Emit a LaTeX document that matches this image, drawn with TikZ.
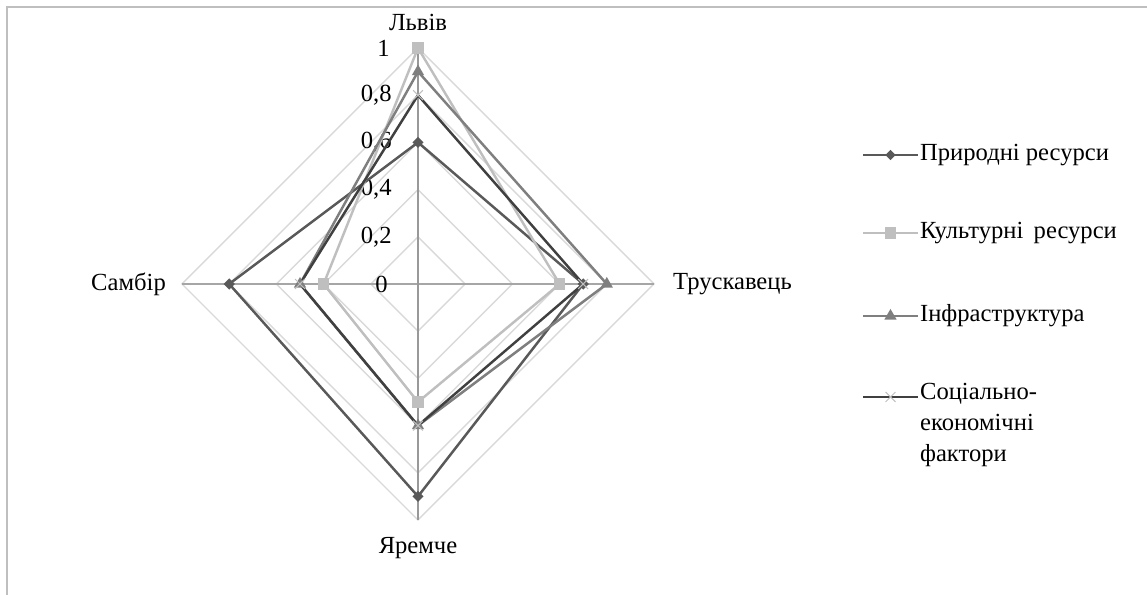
\documentclass[tikz,border=0pt]{standalone}
\usepackage{fontspec}
\setmainfont{LiberationSerif}[Extension=.ttf,UprightFont=*-Regular,BoldFont=*-Bold]
\usetikzlibrary{shapes.geometric,shapes.misc,positioning}
\definecolor{framegray}{HTML}{BFBFBF}
\definecolor{ringgray}{HTML}{D9D9D9}
\definecolor{axisgray}{HTML}{A6A6A6}
\definecolor{cnat}{HTML}{595959}
\definecolor{ccult}{HTML}{BFBFBF}
\definecolor{cinf}{HTML}{7F7F7F}
\definecolor{csoc}{HTML}{404040}

\begin{document}
\begin{tikzpicture}[font=\rmfamily\fontsize{14}{17.6}\selectfont,
   ring/.style={draw=ringgray,line width=0.8pt},
   spoke/.style={draw=axisgray,line width=0.6pt},
   sernat/.style={draw=cnat,line width=1.4pt,line join=round},
   sercult/.style={draw=ccult,line width=1.4pt,line join=round},
   serinf/.style={draw=cinf,line width=1.4pt,line join=round},
   sersoc/.style={draw=csoc,line width=1.4pt,line join=round},
   mnat/.style={diamond,fill=cnat,inner sep=0pt,minimum size=6.5pt},
   mcult/.style={rectangle,fill=ccult,inner sep=0pt,minimum size=6.5pt},
   minf/.style={regular polygon,regular polygon sides=3,fill=cinf,inner sep=0pt,minimum size=8pt},
   msoc/.style={cross out,draw=ccult,line width=0.6pt,inner sep=0pt,minimum size=5pt},
   tick/.style={anchor=east,inner sep=0pt}]
   \useasboundingbox (-8.36,-6.22) rectangle (14.58,5.68);
   \draw[framegray,line width=0.8pt] (-8.22,-6.22) -- (-8.22,5.54) -- (14.58,5.54);

   % grid
   \foreach \k in {1,...,5}
      \draw[ring] (0:\k*0.944) -- (90:\k*0.944) -- (180:\k*0.944) -- (270:\k*0.944) -- cycle;
   \coordinate (o) at (0,0);
   \coordinate (ax1) at (90:4.72);
   \coordinate (ax2) at (0:4.72);
   \coordinate (ax3) at (270:4.72);
   \coordinate (ax4) at (180:4.72);
   \draw[spoke] (ax4) -- (ax2);
   \draw[spoke,draw=cinf!80] (ax1) -- (ax3);

   % scale
   \node[tick] (t0) at (-0.6,0) {0};
   \node[tick] (t2) at (-0.52,0.944) {0,2};
   \node[tick] (t4) at (-0.52,1.888) {0,4};
   \node[tick] (t6) at (-0.52,2.832) {0,6};
   \node[tick] (t8) at (-0.52,3.776) {0,8};
   \node[tick] (t10) at (-0.56,4.72) {1};

   % categories
   \node (lviv) at (0,5.24) {Львів};
   \node[anchor=west] (trusk) at (4.98,0) {Трускавець};
   \node (yarem) at (0,-5.28) {Яремче};
   \node[anchor=east] (sambir) at (-4.92,0) {Самбір};

   % series
   \coordinate (n1) at (90:0.6*4.72);  \coordinate (n2) at (0:0.7*4.72);
   \coordinate (n3) at (270:0.9*4.72); \coordinate (n4) at (180:0.8*4.72);
   \coordinate (c1) at (90:1.0*4.72);  \coordinate (c2) at (0:0.6*4.72);
   \coordinate (c3) at (270:0.5*4.72); \coordinate (c4) at (180:0.4*4.72);
   \coordinate (i1) at (90:0.9*4.72);  \coordinate (i2) at (0:0.8*4.72);
   \coordinate (i3) at (270:0.6*4.72); \coordinate (i4) at (180:0.5*4.72);
   \coordinate (s1) at (90:0.8*4.72);  \coordinate (s2) at (0:0.7*4.72);
   \coordinate (s3) at (270:0.6*4.72); \coordinate (s4) at (180:0.5*4.72);

   \draw[sernat] (n1) -- (n2) -- (n3) -- (n4) -- cycle;
   \draw[sercult] (c1) -- (c2) -- (c3) -- (c4) -- cycle;
   \draw[serinf] (i1) -- (i2) -- (i3) -- (i4) -- cycle;
   \draw[sersoc] (s1) -- (s2) -- (s3) -- (s4) -- cycle;
   \foreach \p in {n1,n2,n3,n4} \node[mnat] at (\p) {};
   \foreach \p in {c1,c2,c3,c4} \node[mcult] at (\p) {};
   \foreach \p in {i1,i2,i3,i4} \node[minf] at (\p) {};
   \foreach \p in {s1,s2,s3,s4} \node[msoc] at (\p) {};

   % legend
   \coordinate (la1) at (8.9,2.58);   \coordinate (lb1) at (10.0,2.58);
   \coordinate (la2) at (8.9,1.02);   \coordinate (lb2) at (10.0,1.02);
   \coordinate (la3) at (8.9,-0.64);  \coordinate (lb3) at (10.0,-0.64);
   \coordinate (la4) at (8.9,-2.26);  \coordinate (lb4) at (10.0,-2.26);
   \draw[sernat] (la1) -- (lb1) node[midway,mnat] {};
   \draw[sercult] (la2) -- (lb2) node[midway,mcult] {};
   \draw[serinf] (la3) -- (lb3) node[midway,minf] {};
   \draw[sersoc] (la4) -- (lb4) node[midway,msoc] {};
   \node[anchor=west,inner sep=1pt] (leg1) at (lb1) {Природні ресурси};
   \node[anchor=west,inner sep=1pt] (leg2) at (lb2) {Культурні\, ресурси};
   \node[anchor=west,inner sep=1pt] (leg3) at (lb3) {Інфраструктура};
   \node[anchor=north west,inner sep=1pt,align=left] (leg4) at ([yshift=0.32cm]lb4)
      {Соціально-\\економічні\\фактори};
\end{tikzpicture}
\end{document}
